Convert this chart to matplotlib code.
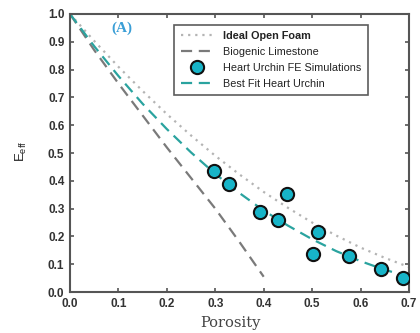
import matplotlib
matplotlib.use("Agg")
import matplotlib.pyplot as plt

# Data
foam_p = [0.0, 0.05, 0.1, 0.15, 0.2, 0.25, 0.3, 0.35, 0.4, 0.45, 0.5, 0.55, 0.6, 0.65, 0.7]
foam_e = [1.0, 0.903, 0.81, 0.723, 0.64, 0.563, 0.49, 0.423, 0.36, 0.303, 0.25, 0.203, 0.16, 0.123, 0.09]

lime_p = [0.0, 0.05, 0.1, 0.15, 0.2, 0.25, 0.3, 0.35, 0.4]
lime_e = [1.0, 0.87, 0.75, 0.635, 0.52, 0.41, 0.30, 0.18, 0.055]

fit_p = [0.0, 0.05, 0.1, 0.15, 0.2, 0.25, 0.3, 0.35, 0.4, 0.45, 0.5, 0.55, 0.6, 0.65, 0.7]
fit_e = [1.0, 0.884, 0.777, 0.677, 0.586, 0.502, 0.425, 0.356, 0.293, 0.239, 0.19, 0.147, 0.111, 0.08, 0.055]

sim_p = [0.298, 0.329, 0.449, 0.393, 0.429, 0.512, 0.501, 0.576, 0.643, 0.687]
sim_e = [0.436, 0.388, 0.351, 0.288, 0.258, 0.216, 0.136, 0.129, 0.083, 0.049]

xticks = [0.0, 0.1, 0.2, 0.3, 0.4, 0.5, 0.6, 0.7]
yticks = [0.0, 0.1, 0.2, 0.3, 0.4, 0.5, 0.6, 0.7, 0.8, 0.9, 1.0]

fig = plt.figure(figsize=(4.2, 3.33), dpi=100)
ax = fig.add_axes([0.1667, 0.123, 0.807, 0.835])

l1, = ax.plot(foam_p, foam_e, linestyle=(0, (1, 2.2)), color="#b4b4b4", lw=1.6,
              label="Ideal Open Foam")
l2, = ax.plot(lime_p, lime_e, linestyle=(0, (5, 3)), color="#7a7a7a", lw=1.6,
              label="Biogenic Limestone")
l3, = ax.plot(sim_p, sim_e, linestyle="none", marker="o", markersize=9.5,
              markerfacecolor="#17b4c8", markeredgecolor="#111111", markeredgewidth=1.5,
              label="Heart Urchin FE Simulations", zorder=5)
l4, = ax.plot(fit_p, fit_e, linestyle=(0, (5, 3)), color="#2aa39f", lw=1.6,
              label="Best Fit Heart Urchin")

ax.set_xlim(0, 0.7)
ax.set_ylim(0, 1.0)
ax.set_xticks(xticks)
ax.set_yticks(yticks)
ax.set_xticklabels([f"{v:.1f}" for v in xticks])
ax.set_yticklabels([f"{v:.1f}" for v in yticks])
for lab in ax.get_xticklabels() + ax.get_yticklabels():
    lab.set_fontfamily("Liberation Sans")
    lab.set_fontweight("bold")
    lab.set_fontsize(8.5)
    lab.set_color("#333333")
ax.tick_params(direction="in", length=3, width=1.2, colors="#555555",
               top=True, right=True, pad=4)
ax.tick_params(axis="both", labelcolor="#333333")
for s in ax.spines.values():
    s.set_color("#555555")
    s.set_linewidth(1.5)

ax.text(0.107, 0.95, "(A)", color="#3a9ed6", fontsize=11, fontweight="bold",
        family="Liberation Serif", ha="center", va="center")

ax.set_xlabel("Porosity", family="DejaVu Serif", fontsize=10.5, color="#444444")
ax.xaxis.set_label_coords(0.472, -0.085)
fig.text(0.05, 0.545, r"E$_{\mathregular{eff}}$", rotation=90, fontsize=9.5,
         family="Liberation Sans", ha="center", va="center", color="#222222")

leg = ax.legend(handles=[l1, l2, l3, l4], loc="upper left",
                bbox_to_anchor=(0.307, 0.962), frameon=True, fancybox=False,
                prop={"family": "Liberation Sans", "size": 7.8},
                handlelength=3.1, handletextpad=0.85, borderpad=0.6,
                labelspacing=0.55, borderaxespad=0)
leg.get_frame().set_edgecolor("#333333")
leg.get_frame().set_linewidth(1.2)
for t in leg.get_texts():
    t.set_color("#222222")
leg.get_texts()[0].set_fontweight("bold")

fig.savefig("out.png", dpi=100)
